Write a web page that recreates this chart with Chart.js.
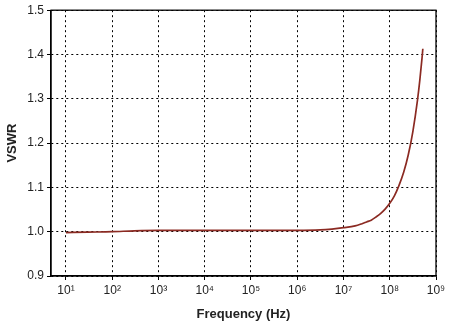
<!DOCTYPE html>
<html>
<head>
<meta charset="utf-8">
<script src="https://cdn.jsdelivr.net/npm/chart.js@4"></script>
<style>
  html, body { margin: 0; padding: 0; background: #fff; }
  #wrap { width: 450px; height: 325px; }
</style>
</head>
<body>
<div id="wrap"><canvas id="vswr"></canvas></div>
<script>
// Datos
const frecuencias = [10, 30, 100, 300, 1e3, 1e4, 1e5, 1e6, 3.16e6, 5.62e6, 1e7, 1.78e7, 2.51e7, 3.16e7, 3.98e7, 5.01e7, 6.31e7, 7.94e7, 1e8, 1.26e8, 1.58e8, 2.0e8, 2.51e8, 3.16e8, 3.98e8, 4.47e8, 5.01e8, 5.19e8];
const vswr = [0.998, 0.999, 1.000, 1.002, 1.003, 1.003, 1.003, 1.003, 1.004, 1.006, 1.009, 1.013, 1.018, 1.022, 1.026, 1.033, 1.041, 1.051, 1.064, 1.081, 1.104, 1.134, 1.173, 1.226, 1.297, 1.342, 1.394, 1.413];
const ticksX = [1e1, 1e2, 1e3, 1e4, 1e5, 1e6, 1e7, 1e8, 1e9];
const superindices = ['⁰', '¹', '²', '³', '⁴', '⁵', '⁶', '⁷', '⁸', '⁹'];

const ctx = document.getElementById('vswr');

// Marco del area de la grafica
const marco = {
    id: 'marco',
    afterDatasetsDraw(chart) {
        const a = chart.chartArea;
        const c = chart.ctx;
        c.save();
        c.strokeStyle = '#000';
        c.lineWidth = 1.3;
        c.strokeRect(a.left, a.top, a.right - a.left, a.bottom - a.top);
        c.restore();
    }
};

new Chart(ctx, {
    type: 'line',
    data: {
        datasets: [
            {
                data: frecuencias.map((f, i) => ({ x: f, y: vswr[i] })),
                borderColor: '#8b2a22',
                borderWidth: 1.7,
                pointRadius: 0,
                cubicInterpolationMode: 'monotone',
                fill: false
            }
        ]
    },
    options: {
        responsive: true,
        maintainAspectRatio: false,
        animation: false,
        layout: {
            padding: { left: 0, top: 7, right: 14, bottom: 0 }
        },
        plugins: {
            legend: { display: false },
            tooltip: { enabled: false }
        },
        scales: {
            x: {
                type: 'logarithmic',
                min: 4.75,
                max: 1e9,
                afterBuildTicks: (scale) => {
                    scale.ticks = ticksX.map(v => ({ value: v }));
                },
                afterFit: (scale) => { scale.height = 49; },
                grid: {
                    color: '#000',
                    lineWidth: 1,
                    tickLength: 4,
                    tickBorderDash: [],
                    tickColor: '#000'
                },
                border: { display: true, color: '#000', width: 1.3, dash: [2, 3] },
                ticks: {
                    color: '#222',
                    padding: 3,
                    autoSkip: false,
                    maxRotation: 0,
                    font: { family: 'Liberation Sans, Arial', size: 12 },
                    callback: (v) => '10' + superindices[Math.round(Math.log10(v))]
                },
                title: {
                    display: true,
                    text: 'Frequency (Hz)',
                    color: '#222',
                    padding: { top: 0, bottom: 3 },
                    font: { family: 'Liberation Sans, Arial', size: 13, weight: 'bold' }
                }
            },
            y: {
                min: 0.9,
                max: 1.5,
                afterFit: (scale) => { scale.width = 51; },
                grid: {
                    color: '#000',
                    lineWidth: 1,
                    tickLength: 4,
                    tickBorderDash: [],
                    tickColor: '#000'
                },
                border: { display: true, color: '#000', width: 1.3, dash: [2, 3] },
                ticks: {
                    stepSize: 0.1,
                    color: '#222',
                    padding: 3,
                    font: { family: 'Liberation Sans, Arial', size: 12 },
                    callback: (v) => v.toFixed(1)
                },
                title: {
                    display: true,
                    text: 'VSWR',
                    color: '#222',
                    padding: { top: 5, bottom: 0 },
                    font: { family: 'Liberation Sans, Arial', size: 13, weight: 'bold' }
                }
            }
        }
    },
    plugins: [marco]
});
</script>
</body>
</html>
